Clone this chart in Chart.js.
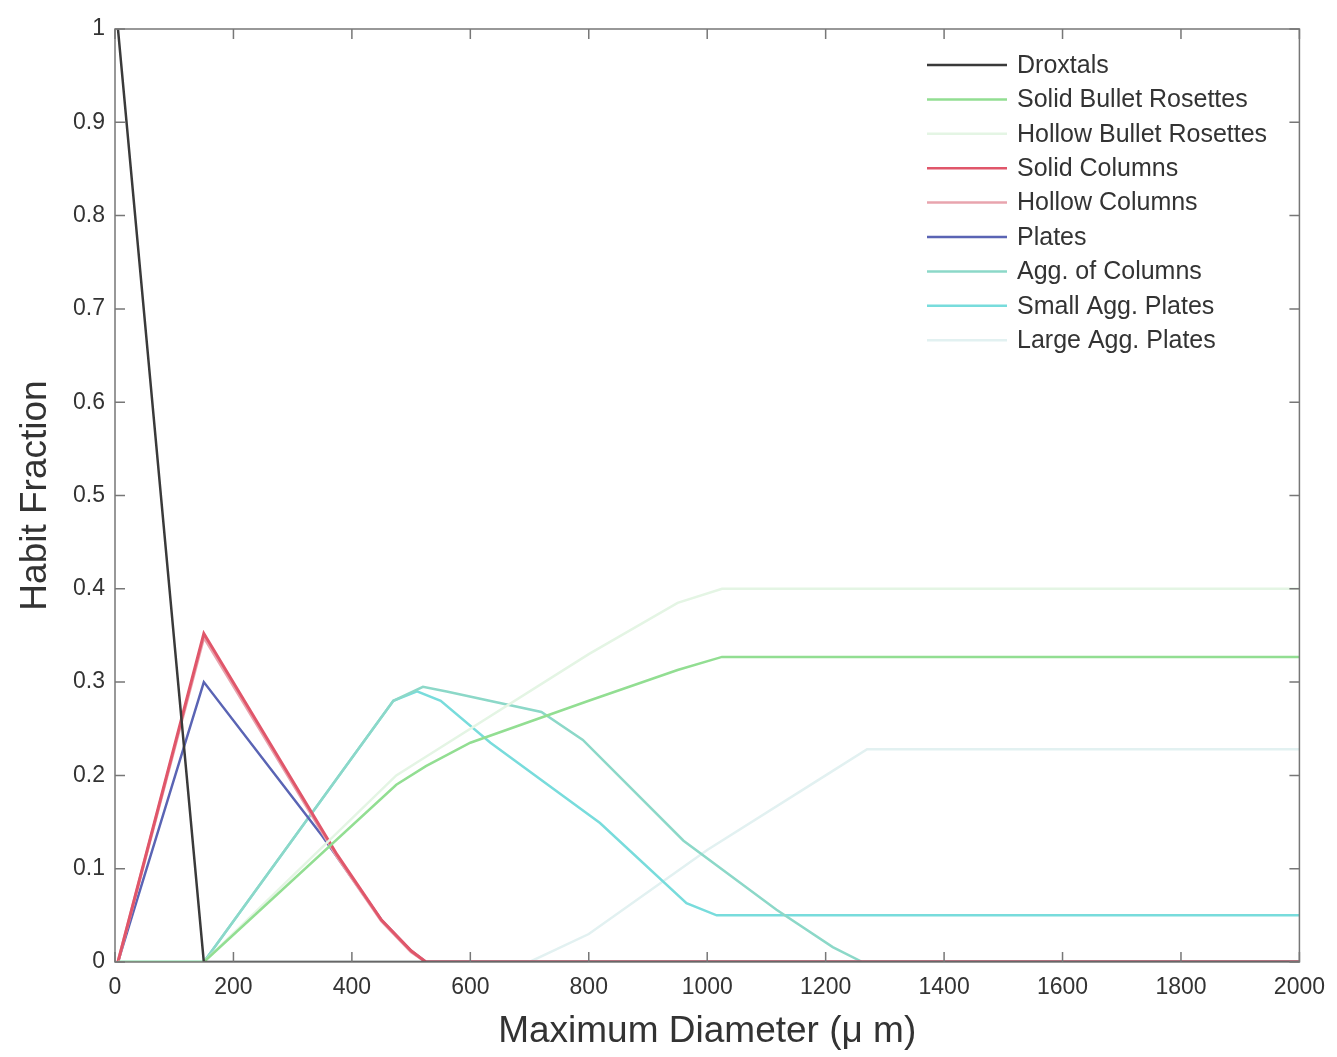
<!DOCTYPE html>
<html>
<head>
<meta charset="utf-8">
<title>Habit Fraction vs Maximum Diameter</title>
<script src="https://cdn.jsdelivr.net/npm/chart.js@4.4.1/dist/chart.umd.min.js"></script>
<style>
  html, body { margin: 0; padding: 0; background: #fff; }
  #wrap { width: 1337px; height: 1057px; position: relative; }
</style>
</head>
<body>
<div id="wrap"><canvas id="habitChart"></canvas></div>
<script>
'use strict';

// Habit names, in legend order
const habitNames = ['Droxtals', 'Solid Bullet Rosettes', 'Hollow Bullet Rosettes', 'Solid Columns',
  'Hollow Columns', 'Plates', 'Agg. of Columns', 'Small Agg. Plates', 'Large Agg. Plates'];

// Each series is [maximum diameter (um), habit fraction] pairs
const droxtals = [[5, 1], [150, 0], [2000, 0]];
const solidBulletRosettes = [[5, 0], [150, 0], [475, 0.19], [525, 0.21], [600, 0.235], [800, 0.28], [950, 0.313], [1025, 0.327], [2000, 0.327]];
const hollowBulletRosettes = [[5, 0], [150, 0], [475, 0.2], [525, 0.22], [800, 0.33], [950, 0.385], [1025, 0.4], [2000, 0.4]];
const solidColumns = [[5, 0], [150, 0.352], [375, 0.115], [450, 0.045], [500, 0.012], [525, 0], [2000, 0]];
const hollowColumns = [[5, 0], [150, 0.348], [375, 0.113], [450, 0.044], [500, 0.011], [525, 0], [2000, 0]];
const plates = [[5, 0], [150, 0.30], [350, 0.135], [450, 0.045], [500, 0.012], [525, 0], [2000, 0]];
const aggOfColumns = [[5, 0], [150, 0], [470, 0.28], [520, 0.295], [560, 0.29], [720, 0.268], [790, 0.238], [960, 0.13], [1117, 0.056], [1212, 0.016], [1262, 0], [2000, 0]];
const smallAggPlates = [[5, 0], [150, 0], [470, 0.28], [510, 0.29], [550, 0.28], [634, 0.235], [819, 0.149], [965, 0.063], [1016, 0.05], [2000, 0.05]];
const largeAggPlates = [[5, 0], [700, 0], [800, 0.03], [1000, 0.12], [1200, 0.2], [1270, 0.228], [2000, 0.228]];

const habitSeries = [droxtals, solidBulletRosettes, hollowBulletRosettes, solidColumns,
  hollowColumns, plates, aggOfColumns, smallAggPlates, largeAggPlates];

const habitColors = ['#3a3a3a', '#92de92', '#e4f5e4', '#e0566a',
  '#e8a4ae', '#5a64b4', '#8cd8c8', '#78dcdc', '#e2f1f1'];

// Axis ticks
const xTickLabels = ['0', '200', '400', '600', '800', '1000', '1200', '1400', '1600', '1800', '2000'];
const yTickLabels = ['0', '0.1', '0.2', '0.3', '0.4', '0.5', '0.6', '0.7', '0.8', '0.9', '1'];

const FONT = '"Liberation Sans", Arial, Helvetica, sans-serif';
const TEXT_COLOR = '#333';

const datasets = habitSeries.map((series, i) => ({
  label: habitNames[i],
  data: series.map((p) => ({ x: p[0], y: p[1] })),
  borderColor: habitColors[i],
  backgroundColor: habitColors[i],
  borderWidth: i === 3 || i === 4 ? 3 : 2.5,
  pointRadius: 0,
  tension: 0,
  fill: false
}));

// Box around the axes with inward ticks on all four sides
const axesBox = {
  id: 'axesBox',
  afterDraw(chart) {
    const ctx = chart.ctx;
    const area = chart.chartArea;
    const xs = chart.scales.x;
    const ys = chart.scales.y;
    const tick = 10;
    ctx.save();
    ctx.strokeStyle = '#777';
    ctx.lineWidth = 1.5;
    ctx.strokeRect(area.left, area.top, area.right - area.left, area.bottom - area.top);
    ctx.beginPath();
    xs.ticks.forEach((t) => {
      const px = xs.getPixelForValue(t.value);
      ctx.moveTo(px, area.bottom);
      ctx.lineTo(px, area.bottom - tick);
      ctx.moveTo(px, area.top);
      ctx.lineTo(px, area.top + tick);
    });
    ys.ticks.forEach((t) => {
      const py = ys.getPixelForValue(t.value);
      ctx.moveTo(area.left, py);
      ctx.lineTo(area.left + tick, py);
      ctx.moveTo(area.right, py);
      ctx.lineTo(area.right - tick, py);
    });
    ctx.stroke();
    ctx.restore();
  }
};

// Legend without a frame in the upper right of the plot
const habitLegend = {
  id: 'habitLegend',
  afterDraw(chart) {
    const ctx = chart.ctx;
    const lineStart = 927;
    const lineEnd = 1007;
    const textX = 1017;
    const firstRow = 65;
    const rowGap = 34.4;
    ctx.save();
    ctx.font = '25px ' + FONT;
    ctx.textBaseline = 'middle';
    ctx.textAlign = 'left';
    chart.data.datasets.forEach((ds, i) => {
      const y = firstRow + i * rowGap;
      ctx.strokeStyle = ds.borderColor;
      ctx.lineWidth = 2.5;
      ctx.beginPath();
      ctx.moveTo(lineStart, y);
      ctx.lineTo(lineEnd, y);
      ctx.stroke();
      ctx.fillStyle = TEXT_COLOR;
      ctx.fillText(ds.label, textX, y + 1);
    });
    ctx.restore();
  }
};

new Chart(document.getElementById('habitChart'), {
  type: 'line',
  data: { datasets: datasets },
  plugins: [axesBox, habitLegend],
  options: {
    responsive: true,
    maintainAspectRatio: false,
    animation: false,
    layout: { padding: { top: 29, right: 37, left: 0, bottom: 0 } },
    plugins: {
      legend: { display: false },
      tooltip: { enabled: false }
    },
    scales: {
      x: {
        type: 'linear',
        min: 0,
        max: 2000,
        grid: { display: false, drawTicks: false },
        border: { display: false },
        ticks: {
          stepSize: 200,
          padding: 12,
          color: TEXT_COLOR,
          font: { family: FONT, size: 23 },
          maxRotation: 0,
          callback: (value, index) => xTickLabels[index]
        },
        title: {
          display: true,
          text: 'Maximum Diameter (\u03bc m)',
          color: TEXT_COLOR,
          font: { family: FONT, size: 37 },
          padding: { top: 0, bottom: 3 }
        },
        afterFit: (scale) => { scale.height = 95; }
      },
      y: {
        min: 0,
        max: 1,
        grid: { display: false, drawTicks: false },
        border: { display: false },
        ticks: {
          stepSize: 0.1,
          padding: 10,
          color: TEXT_COLOR,
          font: { family: FONT, size: 23 },
          callback: (value, index) => yTickLabels[index]
        },
        title: {
          display: true,
          text: 'Habit Fraction',
          color: TEXT_COLOR,
          font: { family: FONT, size: 37 },
          padding: { top: 14, bottom: 0 }
        },
        afterFit: (scale) => { scale.width = 115; }
      }
    }
  }
});
</script>
</body>
</html>
